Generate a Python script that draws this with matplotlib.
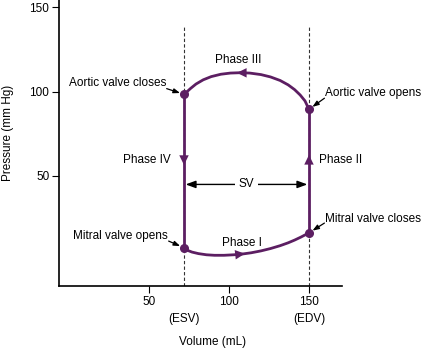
import numpy as np
import matplotlib
matplotlib.use("Agg")
import matplotlib.pyplot as plt
from matplotlib.transforms import blended_transform_factory

plt.rcParams['font.family'] = ['Liberation Sans', 'DejaVu Sans']

# ---------------- data ----------------
esv = 72          # end-systolic volume (mL)
edv = 150         # end-diastolic volume (mL)
p_mitral_open = 7.5
p_mitral_close = 16.3
p_aortic_open = 89.5
p_aortic_close = 98.4

# Phase I: filling (ESV -> EDV)
phase1_vol = [72, 74, 77, 81, 86, 91, 97, 103, 108, 114, 120, 126, 132, 137, 141, 145, 148, 150]
phase1_p = [7.5, 6.0, 4.9, 4.0, 3.3, 3.0, 3.0, 3.3, 3.7, 4.5, 5.6, 7.0, 8.7, 10.4, 12.0, 13.8, 15.3, 16.3]
# Phase III: ejection (EDV -> ESV)
phase3_vol = [150, 147.5, 144.5, 141, 137, 132, 126, 120, 113, 107, 101, 95, 89, 84, 79.5, 76, 73.5, 72]
phase3_p = [89.5, 94.5, 98.0, 101.2, 104.0, 106.6, 108.7, 110.1, 111.0, 111.2, 111.0, 110.3,
            108.9, 107.0, 104.5, 101.8, 99.6, 98.4]

xticks = [50, 100, 150]
yticks = [50, 100, 150]
sv_pressure = 45
phase_arrow_p = [56.5, 62.5]      # Phase IV (down), Phase II (up)
phase_arrow_vol = [105, 110]      # Phase III (left), Phase I (right)

purple = '#5c1e62'

# ---------------- figure ----------------
W, H = 424, 349
fig = plt.figure(figsize=(W / 100, H / 100), dpi=100)
ax = fig.add_axes([59 / W, 1 - 286 / H, (342 - 59) / W, 286 / H])
ax.set_xlim(-6, 170.6)
ax.set_ylim(-15.2, 154.3)

def fpx(x, y):
    return (x / W, 1 - y / H)

# loop
lw = 2.0
ax.plot(phase1_vol, phase1_p, color=purple, lw=lw, solid_capstyle='round', solid_joinstyle='round', zorder=3)
ax.plot(phase3_vol, phase3_p, color=purple, lw=lw, solid_capstyle='round', solid_joinstyle='round', zorder=3)
ax.plot([edv, edv], [p_mitral_close, p_aortic_open], color=purple, lw=lw, zorder=3)
ax.plot([esv, esv], [p_aortic_close, p_mitral_open], color=purple, lw=lw, zorder=3)
ax.plot([esv, edv, edv, esv], [p_mitral_open, p_mitral_close, p_aortic_open, p_aortic_close],
        'o', color=purple, ms=5.5, zorder=4)

# dashed reference lines
ax.vlines([esv, edv], -15.2, 138.5, colors='#333333', linestyles=(0, (3, 2)), lw=0.8, zorder=1)

# arrowheads along the loop
ap = dict(arrowstyle='-|>,head_length=0.7,head_width=0.34', color=purple, lw=0,
          shrinkA=0, shrinkB=0, mutation_scale=10)
ax.annotate('', xy=(esv, phase_arrow_p[0]), xytext=(esv, phase_arrow_p[0] + 5), arrowprops=ap, zorder=5)
ax.annotate('', xy=(edv, phase_arrow_p[1]), xytext=(edv, phase_arrow_p[1] - 5), arrowprops=ap, zorder=5)
v3 = phase_arrow_vol[0]
p3 = np.interp(v3, phase3_vol[::-1], phase3_p[::-1])
p3b = np.interp(v3 + 4, phase3_vol[::-1], phase3_p[::-1])
ax.annotate('', xy=(v3, p3), xytext=(v3 + 4, p3b), arrowprops=ap, zorder=5)
v1 = phase_arrow_vol[1]
p1 = np.interp(v1, phase1_vol, phase1_p)
p1b = np.interp(v1 - 4, phase1_vol, phase1_p)
ax.annotate('', xy=(v1, p1), xytext=(v1 - 4, p1b), arrowprops=ap, zorder=5)

fs = 8.5
# phase labels
ax.text(106, 119, 'Phase III', ha='center', va='center', fontsize=fs)
ax.text(esv - 8, 59.5, 'Phase IV', ha='right', va='center', fontsize=fs)
ax.text(edv + 6, 59.5, 'Phase II', ha='left', va='center', fontsize=fs)
ax.text(108, 10.5, 'Phase I', ha='center', va='center', fontsize=fs)

# SV arrow
ax.annotate('', xy=(edv - 1, sv_pressure), xytext=(esv + 1, sv_pressure),
            arrowprops=dict(arrowstyle='<|-|>,head_length=0.6,head_width=0.22', color='black',
                            lw=1.0, shrinkA=0, shrinkB=0, mutation_scale=10))
ax.text((esv + edv) / 2, sv_pressure, 'SV', ha='center', va='center', fontsize=fs,
        bbox=dict(facecolor='white', edgecolor='none', pad=2.5), zorder=6)

# valve annotations
def note(text, xy, xytext, ha, relpos):
    ax.annotate(text, xy=xy, xytext=fpx(*xytext), textcoords='figure fraction',
                ha=ha, va='center', fontsize=fs,
                arrowprops=dict(arrowstyle='-|>,head_length=0.38,head_width=0.14', color='black',
                                lw=0.9, shrinkA=0.5, shrinkB=3, mutation_scale=10,
                                patchA=None, relpos=relpos))

note('Aortic valve closes', (esv, p_aortic_close), (166, 83), 'right', (1.0, 0.05))
note('Aortic valve opens', (edv, p_aortic_open), (325, 93), 'left', (0.0, 0.1))
note('Mitral valve opens', (esv, p_mitral_open), (168, 236), 'right', (1.0, 0.1))
note('Mitral valve closes', (edv, p_mitral_close), (325, 218.5), 'left', (0.0, 0.15))

# axes styling
for s in ['top', 'right']:
    ax.spines[s].set_visible(False)
for s in ['left', 'bottom']:
    ax.spines[s].set_linewidth(1.2)
ax.set_xticks(xticks)
ax.set_yticks(yticks)
ax.tick_params(direction='out', length=5, width=0.8, labelsize=fs, pad=2)

# ESV / EDV labels below tick labels
tr = blended_transform_factory(ax.transData, fig.transFigure)
ax.text(esv, 1 - 319 / H, '(ESV)', transform=tr, ha='center', va='center', fontsize=fs)
ax.text(edv, 1 - 319 / H, '(EDV)', transform=tr, ha='center', va='center', fontsize=fs)

fig.text(*fpx(213, 342), 'Volume (mL)', ha='center', va='center', fontsize=fs)
fig.text(*fpx(8, 133), 'Pressure (mm Hg)', ha='center', va='center', rotation=90, fontsize=fs)

fig.savefig('out.png', dpi=100)
